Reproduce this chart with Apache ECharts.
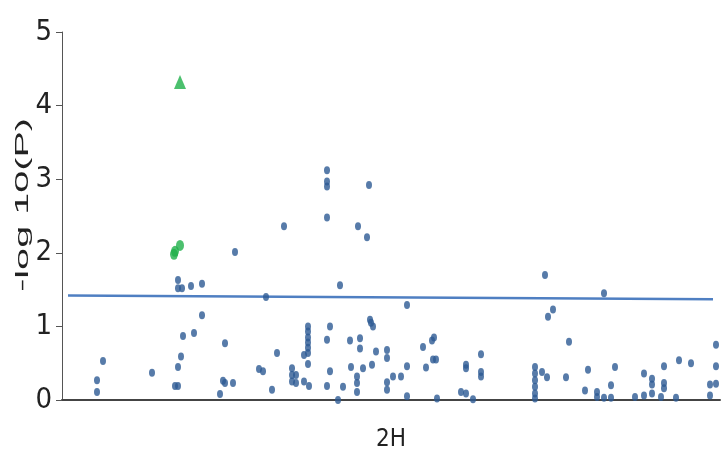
<!DOCTYPE html>
<html>
<head>
<meta charset="utf-8">
<script src="https://cdn.jsdelivr.net/npm/echarts@6/dist/echarts.min.js"></script>
<style>
  html, body { margin: 0; padding: 0; background: #fff; }
  #main { width: 726px; height: 459px; }
</style>
</head>
<body>
<div id="main"></div>
<script>
// positions along 2H (arbitrary units) and -log10(P) of every marker
var bluePos = [35, 35, 41, 90, 113, 116, 116, 119, 121, 132, 116, 116, 120, 129, 140, 140, 173, 163, 158, 161,
  163, 171, 197, 201, 204, 210, 215, 222, 230, 230, 230, 234, 234, 242, 242, 246, 246, 246, 246, 246,
  246, 246, 247, 265, 265, 265, 265, 268, 265, 268, 265, 276, 278, 281, 288, 289, 295, 295, 295, 296,
  298, 298, 301, 305, 307, 308, 309, 311, 310, 314, 325, 325, 325, 325, 331, 339, 345, 345, 345, 361,
  364, 370, 372, 371, 374, 375, 399, 404, 404, 404, 411, 419, 419, 419, 473, 473, 473, 473, 473, 473,
  480, 483, 486, 491, 485, 504, 507, 523, 526, 535, 535, 542, 542, 549, 549, 553, 573, 582, 582, 590,
  590, 590, 599, 602, 602, 602, 614, 617, 629, 648, 648, 654, 654, 654];
var blueP = [0.11, 0.27, 0.53, 0.37, 0.19, 0.19, 0.45, 0.59, 0.87, 0.91, 1.63, 1.52, 1.52, 1.55, 1.58, 1.15, 2.01, 0.77, 0.08, 0.26,
  0.23, 0.23, 0.42, 0.39, 1.40, 0.14, 0.64, 2.36, 0.43, 0.34, 0.25, 0.34, 0.23, 0.61, 0.25, 1.00, 0.93, 0.85, 0.78, 0.71,
  0.64, 0.49, 0.19, 3.12, 2.97, 2.90, 2.48, 1.00, 0.82, 0.39, 0.19, 0.00, 1.56, 0.18, 0.81, 0.45, 0.32, 0.23, 0.11, 2.36,
  0.84, 0.70, 0.43, 2.21, 2.92, 1.09, 1.05, 1.00, 0.48, 0.66, 0.68, 0.57, 0.24, 0.14, 0.32, 0.32, 1.29, 0.46, 0.05, 0.72,
  0.44, 0.81, 0.85, 0.55, 0.55, 0.02, 0.11, 0.09, 0.48, 0.43, 0.01, 0.62, 0.38, 0.32, 0.45, 0.36, 0.27, 0.18, 0.09, 0.02,
  0.38, 1.70, 1.13, 1.23, 0.31, 0.31, 0.79, 0.13, 0.41, 0.11, 0.04, 1.45, 0.03, 0.20, 0.03, 0.45, 0.04, 0.36, 0.06, 0.29,
  0.21, 0.09, 0.04, 0.46, 0.23, 0.16, 0.03, 0.54, 0.50, 0.21, 0.06, 0.75, 0.46, 0.22];

var greenPos = [112, 113, 118];
var greenP = [1.98, 2.02, 2.10];

var topPos = [118];
var topP = [4.32];

// threshold line end points
var threshPos = [6, 651];
var threshP = [1.42, 1.37];

var yTicks = ['0', '1', '2', '3', '4', '5'];
var chromLabel = '2H';
var yTitle = '-log 10(P)';

var narrowFont = '"Liberation Sans Narrow", "DejaVu Sans Condensed", "Liberation Sans", sans-serif';

function zip(xs, ys) {
  return xs.map(function (x, i) { return [x, ys[i]]; });
}

var myChart = echarts.init(document.getElementById('main'));
var option = {
  animation: false,
  grid: { left: 62, right: 6, top: 32, bottom: 59 },
  xAxis: {
    type: 'value',
    min: 0,
    max: 658,
    name: chromLabel,
    nameLocation: 'middle',
    nameGap: 28,
    nameTextStyle: { fontFamily: narrowFont, fontSize: 24, color: '#222' },
    axisLine: { lineStyle: { color: '#444', width: 2 } },
    axisTick: { show: false },
    axisLabel: { show: false },
    splitLine: { show: false }
  },
  yAxis: {
    type: 'value',
    min: 0,
    max: 5,
    interval: 1,
    axisLine: { show: true, lineStyle: { color: '#555', width: 1 } },
    axisTick: { show: true, length: 6, lineStyle: { color: '#555' } },
    axisLabel: {
      margin: 10,
      fontFamily: narrowFont,
      fontSize: 29,
      color: '#222',
      formatter: function (v) { return yTicks[v]; }
    },
    splitLine: { show: false }
  },
  graphic: [{
    type: 'text',
    left: 14,
    top: 118,
    rotation: Math.PI / 2,
    scaleX: 2.2,
    style: {
      text: yTitle,
      fontFamily: 'Liberation Sans, Arial, sans-serif',
      fontSize: 18,
      fill: '#222'
    }
  }],
  series: [{
    name: 'threshold',
    type: 'line',
    data: zip(threshPos, threshP),
    symbol: 'none',
    lineStyle: { color: '#4f7fc2', width: 2.5 },
    z: 1
  }, {
    name: 'snp',
    type: 'scatter',
    data: zip(bluePos, blueP),
    symbol: 'circle',
    symbolSize: [6, 8],
    itemStyle: { color: '#2d5a94' },
    z: 3
  }, {
    name: 'green',
    type: 'scatter',
    data: zip(greenPos, greenP),
    symbol: 'circle',
    symbolSize: [8, 11],
    itemStyle: { color: '#1fb04a' },
    z: 3
  }, {
    name: 'top',
    type: 'scatter',
    data: zip(topPos, topP),
    symbol: 'triangle',
    symbolSize: [12, 14],
    itemStyle: { color: '#1fb04a' },
    z: 3
  }]
};
myChart.setOption(option);
</script>
</body>
</html>
